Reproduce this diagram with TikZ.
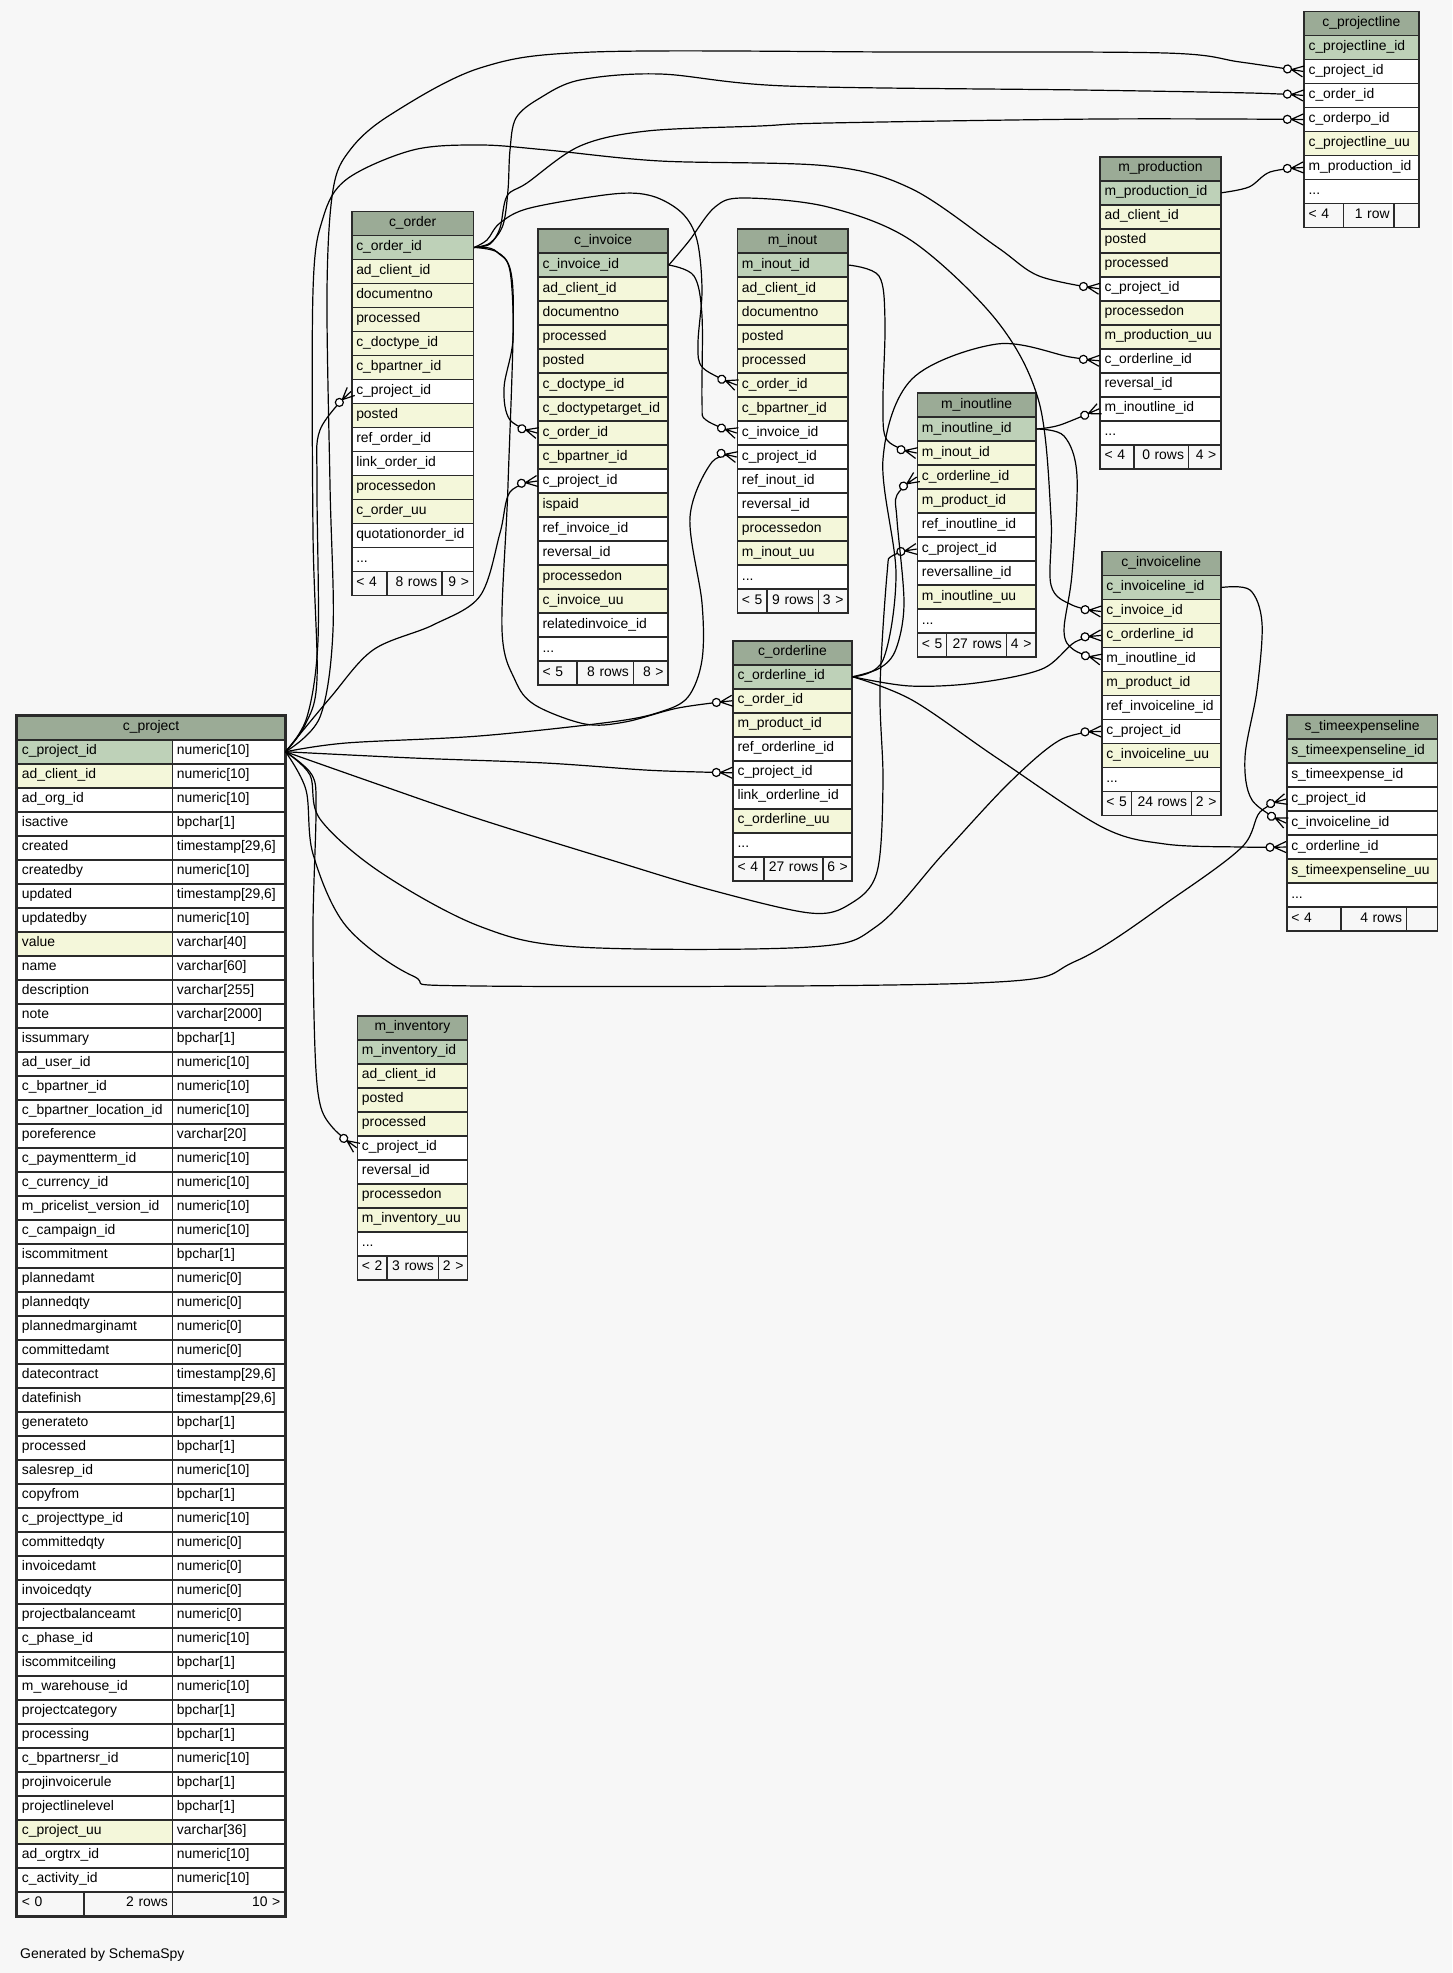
\documentclass[tikz,border=0pt]{standalone}
\usepackage{fontspec}
\setmainfont{Liberation Sans}
\definecolor{bgc}{HTML}{F7F7F7}
\definecolor{hdrc}{HTML}{9BAB96}
\definecolor{pkc}{HTML}{BED1B8}
\definecolor{ixc}{HTML}{F4F7DA}
\definecolor{wc}{HTML}{FFFFFF}
\definecolor{bordc}{HTML}{2A2A2A}

% crow's foot with a ring, as SchemaSpy draws it
\pgfdeclarearrow{
  name = crowodot,
  setup code = {
    \pgfarrowssettipend{0pt}
    \pgfarrowssetlineend{-20pt}
    \pgfarrowssetbackend{-20pt}
    \pgfarrowssetvisualbackend{-20pt}
    \pgfarrowshullpoint{0pt}{5.5pt}
    \pgfarrowshullpoint{0pt}{-5.5pt}
    \pgfarrowshullpoint{-20pt}{0pt}
  },
  drawing code = {
    \pgfpathmoveto{\pgfqpoint{0pt}{5.5pt}}
    \pgfpathlineto{\pgfqpoint{-12pt}{0pt}}
    \pgfpathlineto{\pgfqpoint{0pt}{-5.5pt}}
    \pgfpathmoveto{\pgfqpoint{0pt}{0pt}}
    \pgfpathlineto{\pgfqpoint{-12pt}{0pt}}
    \pgfusepathqstroke
    \pgfpathcircle{\pgfqpoint{-16pt}{0pt}}{4pt}
    \pgfsetfillcolor{white}
    \pgfusepathqfillstroke
  }
}

\tikzset{
  fld/.style={draw=bordc, line width=1.5pt, fill=wc, anchor=north west,
    minimum height=24pt, inner xsep=4.5pt, inner ysep=0pt, align=left,
    font=\fontsize{13.9}{16}\selectfont, execute at begin node=\strut},
  hdr/.style={fld, fill=hdrc, align=center},
  foot/.style={fld, fill=bgc},
  rel/.style={draw=black, line width=1.2pt, -{crowodot}},
}

% table: name, x, y, width, number of fields, fields
\newcommand{\dbtable}[6]{%
  \pgfmathsetmacro{\tw}{#4-9}
  \node[hdr, minimum width=#4pt, text width=\tw pt] (#1) at (#2,#3) {#1};
  \foreach \f/\c [count=\i] in {#6}
    \node[fld, fill=\c, minimum width=#4pt, text width=\tw pt] (#1-\f) at (#2,#3+24*\i) {\mbox{\f}};
  \node[fld, minimum width=#4pt, text width=\tw pt] (#1-more) at (#2,#3+24*#5+24) {...};
}
% footer row: name, y, x0, x1, x2, x3, three texts
\newcommand{\dbfoot}[9]{%
  \pgfmathsetmacro{\fwa}{#4-#3}\pgfmathsetmacro{\fwb}{#5-#4}\pgfmathsetmacro{\fwc}{#6-#5}
  \pgfmathsetmacro{\fta}{#4-#3-9}\pgfmathsetmacro{\ftb}{#5-#4-9}\pgfmathsetmacro{\ftc}{#6-#5-9}
  \node[foot, minimum width=\fwa pt, text width=\fta pt, align=left] (#1-foot1) at (#3,#2) {\mbox{#7}};
  \node[foot, minimum width=\fwb pt, text width=\ftb pt, align=right] (#1-foot2) at (#4,#2) {\mbox{#8}};
  \node[foot, minimum width=\fwc pt, text width=\ftc pt, align=right] (#1-foot3) at (#5,#2) {\mbox{#9}};
}

\begin{document}
\catcode`\_=12
\begin{tikzpicture}[x=1pt,y=-1pt]
\fill[bgc] (0,0) rectangle (1452,1973);

\dbtable{c_projectline}{1303.3}{10.7}{114.7}{6}{c_projectline_id/pkc, c_project_id/wc,
  c_order_id/wc, c_orderpo_id/wc, c_projectline_uu/ixc, m_production_id/wc}
\dbfoot{c_projectline}{202.7}{1303.3}{1342.7}{1393.3}{1418}{< 4}{1 row}{}

\dbtable{m_production}{1099.3}{156}{120.7}{10}{m_production_id/pkc, ad_client_id/ixc,
  posted/ixc, processed/ixc, c_project_id/wc, processedon/ixc, m_production_uu/ixc,
  c_orderline_id/wc, reversal_id/wc, m_inoutline_id/wc}
\dbfoot{m_production}{444}{1099.3}{1133.3}{1187.7}{1220}{< 4}{0 rows}{4 >}

\dbtable{c_order}{351}{210.7}{121.7}{13}{c_order_id/pkc, ad_client_id/ixc, documentno/ixc,
  processed/ixc, c_doctype_id/ixc, c_bpartner_id/ixc, c_project_id/wc, posted/ixc,
  ref_order_id/wc, link_order_id/wc, processedon/ixc, c_order_uu/ixc, quotationorder_id/wc}
\dbfoot{c_order}{570.7}{351}{386}{441}{472.7}{< 4}{8 rows}{9 >}

\dbtable{c_invoice}{537.3}{228.3}{130}{16}{c_invoice_id/pkc, ad_client_id/ixc, documentno/ixc,
  processed/ixc, posted/ixc, c_doctype_id/ixc, c_doctypetarget_id/ixc, c_order_id/ixc,
  c_bpartner_id/ixc, c_project_id/wc, ispaid/ixc, ref_invoice_id/wc, reversal_id/wc,
  processedon/ixc, c_invoice_uu/ixc, relatedinvoice_id/wc}
\dbfoot{c_invoice}{660.3}{537.3}{576}{632.7}{667.3}{< 5}{8 rows}{8 >}

\dbtable{m_inout}{736.7}{228.3}{110.3}{13}{m_inout_id/pkc, ad_client_id/ixc, documentno/ixc,
  posted/ixc, processed/ixc, c_order_id/ixc, c_bpartner_id/ixc, c_invoice_id/wc,
  c_project_id/wc, ref_inout_id/wc, reversal_id/wc, processedon/ixc, m_inout_uu/ixc}
\dbfoot{m_inout}{588.3}{736.7}{766}{817.7}{847}{< 5}{9 rows}{3 >}

\dbtable{m_inoutline}{916.7}{392.3}{118.3}{8}{m_inoutline_id/pkc, m_inout_id/ixc,
  c_orderline_id/ixc, m_product_id/ixc, ref_inoutline_id/wc, c_project_id/wc,
  reversalline_id/wc, m_inoutline_uu/ixc}
\dbfoot{m_inoutline}{632.3}{916.7}{945.7}{1005.7}{1035}{< 5}{27 rows}{4 >}

\dbtable{c_orderline}{732.3}{640}{118.7}{7}{c_orderline_id/pkc, c_order_id/ixc,
  m_product_id/ixc, ref_orderline_id/wc, c_project_id/wc, link_orderline_id/wc,
  c_orderline_uu/ixc}
\dbfoot{c_orderline}{856}{732.3}{763}{822}{851}{< 4}{27 rows}{6 >}

\dbtable{c_invoiceline}{1101}{550.7}{119}{8}{c_invoiceline_id/pkc, c_invoice_id/ixc,
  c_orderline_id/ixc, m_inoutline_id/wc, m_product_id/ixc, ref_invoiceline_id/wc,
  c_project_id/wc, c_invoiceline_uu/ixc}
\dbfoot{c_invoiceline}{790.7}{1101}{1130.7}{1190.7}{1220}{< 5}{24 rows}{2 >}

\dbtable{s_timeexpenseline}{1286}{714.3}{150.7}{6}{s_timeexpenseline_id/pkc,
  s_timeexpense_id/wc, c_project_id/wc, c_invoiceline_id/wc, c_orderline_id/wc,
  s_timeexpenseline_uu/ixc}
\dbfoot{s_timeexpenseline}{906.3}{1286}{1340}{1405.7}{1436.7}{< 4}{4 rows}{}

\dbtable{m_inventory}{356.7}{1015}{110}{8}{m_inventory_id/pkc, ad_client_id/ixc, posted/ixc,
  processed/ixc, c_project_id/wc, reversal_id/wc, processedon/ixc, m_inventory_uu/ixc}
\dbfoot{m_inventory}{1255}{356.7}{386}{437.7}{466.7}{< 2}{3 rows}{2 >}

% c_project, with its types
\node[hdr, minimum width=267.3pt, text width=258.3pt] (c_project) at (16.7,715) {c_project};
\foreach \f/\t/\c [count=\i] in {c_project_id/numeric[10]/pkc, ad_client_id/numeric[10]/ixc,
  ad_org_id/numeric[10]/wc, isactive/bpchar[1]/wc, created/{timestamp[29,6]}/wc,
  createdby/numeric[10]/wc, updated/{timestamp[29,6]}/wc, updatedby/numeric[10]/wc,
  value/varchar[40]/ixc, name/varchar[60]/wc, description/varchar[255]/wc,
  note/varchar[2000]/wc, issummary/bpchar[1]/wc, ad_user_id/numeric[10]/wc,
  c_bpartner_id/numeric[10]/wc, c_bpartner_location_id/numeric[10]/wc,
  poreference/varchar[20]/wc, c_paymentterm_id/numeric[10]/wc, c_currency_id/numeric[10]/wc,
  m_pricelist_version_id/numeric[10]/wc, c_campaign_id/numeric[10]/wc,
  iscommitment/bpchar[1]/wc, plannedamt/numeric[0]/wc, plannedqty/numeric[0]/wc,
  plannedmarginamt/numeric[0]/wc, committedamt/numeric[0]/wc,
  datecontract/{timestamp[29,6]}/wc, datefinish/{timestamp[29,6]}/wc,
  generateto/bpchar[1]/wc, processed/bpchar[1]/wc, salesrep_id/numeric[10]/wc,
  copyfrom/bpchar[1]/wc, c_projecttype_id/numeric[10]/wc, committedqty/numeric[0]/wc,
  invoicedamt/numeric[0]/wc, invoicedqty/numeric[0]/wc, projectbalanceamt/numeric[0]/wc,
  c_phase_id/numeric[10]/wc, iscommitceiling/bpchar[1]/wc, m_warehouse_id/numeric[10]/wc,
  projectcategory/bpchar[1]/wc, processing/bpchar[1]/wc, c_bpartnersr_id/numeric[10]/wc,
  projinvoicerule/bpchar[1]/wc, projectlinelevel/bpchar[1]/wc, c_project_uu/varchar[36]/ixc,
  ad_orgtrx_id/numeric[10]/wc, c_activity_id/numeric[10]/wc}{
  \node[fld, fill=\c, minimum width=267.3pt, text width=258.3pt] (c_project-\f) at (16.7,715+24*\i) {\mbox{\f}};
  \node[fld, minimum width=112.3pt, text width=103.3pt] (c_project-\f-type) at (171.7,715+24*\i) {\mbox{\t}};
}
\dbfoot{c_project}{1891}{16.7}{83.3}{171.7}{284}{< 0}{2 rows}{10 >}
\draw[bordc, line width=3pt] (c_project.north west) rectangle (c_project-foot3.south east);

% links out of c_project
\draw[rel] plot[smooth, tension=.55] coordinates {(c_project-c_project_id.east) (320,717) (333,630) (330,485) (327,291) (333,190) (350,150) (390,115) (480,68) (593,52) (900,52) (1165,53) (1240,62) (c_projectline-c_project_id.west)};
\draw[rel] plot[smooth, tension=.55] coordinates {(c_project-c_project_id.east) (305,725) (317,679) (313,533) (313,291) (323,218) (347,179) (413,150) (480,145) (547,150) (660,161) (828,166) (912,189) (997,247) (1039,276) (m_production-c_project_id.west)};
\draw[rel] plot[smooth, tension=.55] coordinates {(c_project-c_project_id.east) (307,717) (318,640) (317,485) (320,430) (c_order-c_project_id.west)};
\draw[rel] plot[smooth, tension=.55] coordinates {(c_project-c_project_id.east) (330,698) (373,650) (433,625) (480,596) (500,533) (510,492) (c_invoice-c_project_id.west)};
\draw[rel] plot[smooth, tension=.55] coordinates {(c_project-c_project_id.east) (346,743) (479,736) (611,722) (660,712) (688,697) (702,660) (702,603) (690,517) (712,462) (m_inout-c_project_id.west)};
\draw[rel] plot[smooth, tension=.55] coordinates {(c_project-c_project_id.east) (380,785) (479,819) (611,860) (711,890) (810,913) (850,904) (877,872) (883,783) (880,689) (887,574) (892,556) (m_inoutline-c_project_id.west)};
\draw[rel] plot[smooth, tension=.55] coordinates {(c_project-c_project_id.east) (413,758) (545,763) (645,770) (700,772) (c_orderline-c_project_id.west)};
\draw[rel] plot[smooth, tension=.55] coordinates {(c_project-c_project_id.east) (310,775) (320,819) (380,872) (479,926) (578,947) (810,947) (877,926) (943,854) (1009,783) (1060,740) (c_invoiceline-c_project_id.west)};
\draw[rel] plot[smooth, tension=.55] coordinates {(c_project-c_project_id.east) (306,790) (313,854) (346,926) (413,976) (479,986) (976,983) (1076,961) (1175,897) (1242,847) (1260,812) (s_timeexpenseline-c_project_id.west)};
\draw[rel] plot[smooth, tension=.55] coordinates {(c_project-c_project_id.east) (312,775) (316,810) (313,926) (315,1050) (320,1104) (333,1128) (m_inventory-c_project_id.west)};

% links out of c_order
\draw[rel] plot[smooth, tension=.55] coordinates {(c_order-c_order_id.east) (490,243) (503,225) (508,190) (510,150) (516,118) (540,98) (580,80) (660,74) (786,86) (1081,90) (1250,93) (c_projectline-c_order_id.west)};
\draw[rel] plot[smooth, tension=.55] coordinates {(c_order-c_order_id.east) (490,244) (500,228) (507,196) (527,183) (580,146) (647,131) (760,126) (828,123) (1100,119) (c_projectline-c_orderpo_id.west)};
\draw[rel] plot[smooth, tension=.55] coordinates {(c_order-c_order_id.east) (497,252) (510,271) (513,339) (504,388) (510,420) (c_invoice-c_order_id.west)};
\draw[rel] plot[smooth, tension=.55] coordinates {(c_order-c_order_id.east) (487,240) (500,223) (530,208) (613,194) (652,196) (682,213) (697,240) (702,290) (698,344) (703,368) (m_inout-c_order_id.west)};
\draw[rel] plot[smooth, tension=.55] coordinates {(c_order-c_order_id.east) (497,252) (513,291) (508,485) (502,630) (515,680) (535,705) (585,724) (625,722) (678,708) (c_orderline-c_order_id.west)};

% links out of c_invoice and m_inout
\draw[rel] plot[smooth, tension=.55] coordinates {(c_invoice-c_invoice_id.east) (694,276) (702,316) (702,402) (706,420) (m_inout-c_invoice_id.west)};
\draw[rel] plot[smooth, tension=.55] coordinates {(c_invoice-c_invoice_id.east) (689,241) (715,207) (744,198) (828,207) (912,241) (997,321) (1039,402) (1051,517) (1051,585) (1072,605) (c_invoiceline-c_invoice_id.west)};
\draw[rel] plot[smooth, tension=.55] coordinates {(m_inout-m_inout_id.east) (879,276) (885,321) (883,402) (887,440) (m_inoutline-m_inout_id.west)};

% links out of m_inoutline
\draw[rel] plot[smooth, tension=.55] coordinates {(m_inoutline-m_inoutline_id.east) (1060,425) (m_production-m_inoutline_id.west)};
\draw[rel] plot[smooth, tension=.55] coordinates {(m_inoutline-m_inoutline_id.east) (1064,436) (1077,476) (1072,574) (1064,631) (1074,650) (c_invoiceline-m_inoutline_id.west)};

% links out of c_orderline
\draw[rel] plot[smooth, tension=.55] coordinates {(c_orderline-c_orderline_id.east) (883,660) (896,574) (883,459) (912,379) (997,344) (1070,357) (m_production-c_orderline_id.west)};
\draw[rel] plot[smooth, tension=.55] coordinates {(c_orderline-c_orderline_id.east) (880,668) (896,649) (904,603) (897,520) (897,495) (m_inoutline-c_orderline_id.west)};
\draw[rel] plot[smooth, tension=.55] coordinates {(c_orderline-c_orderline_id.east) (910,686) (976,683) (1042,669) (1075,642) (c_invoiceline-c_orderline_id.west)};
\draw[rel] plot[smooth, tension=.55] coordinates {(c_orderline-c_orderline_id.east) (912,700) (997,758) (1102,827) (1165,844) (1240,847) (s_timeexpenseline-c_orderline_id.west)};

% the rest
\draw[rel] plot[smooth, tension=.55] coordinates {(m_production-m_production_id.east) (1249,187) (1270,172) (c_projectline-m_production_id.west)};
\draw[rel] plot[smooth, tension=.55] coordinates {(c_invoiceline-c_invoiceline_id.east) (1250,590) (1262,623) (1257,690) (1245,757) (1252,800) (s_timeexpenseline-c_invoiceline_id.west)};

\node[anchor=base west, font=\fontsize{14}{16}\selectfont] (credit) at (16.7,1958) {Generated by SchemaSpy};
\end{tikzpicture}
\end{document}
